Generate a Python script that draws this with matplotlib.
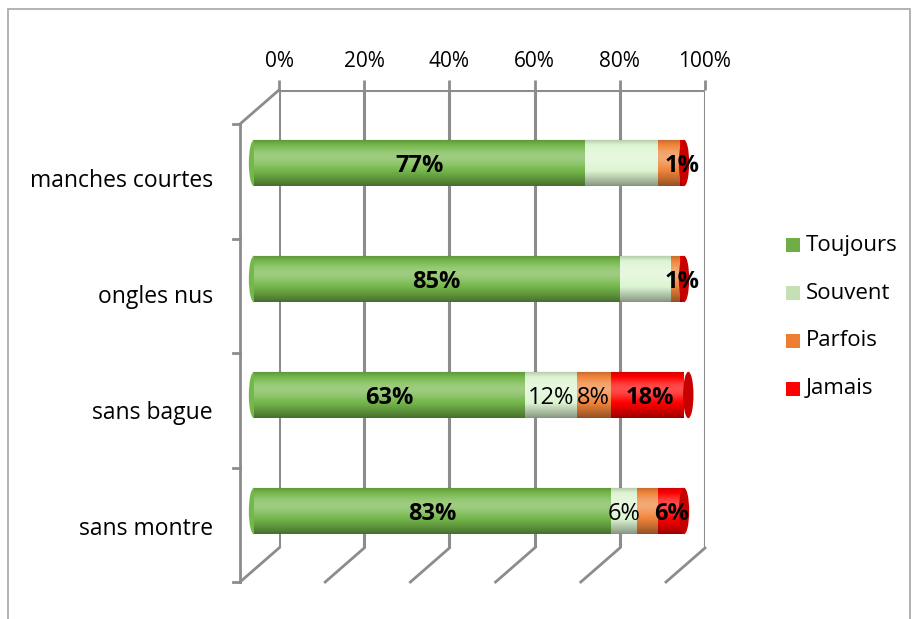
import numpy as np
import matplotlib
matplotlib.use("Agg")
import matplotlib.pyplot as plt
from matplotlib.patches import Ellipse, Rectangle, PathPatch
from matplotlib.path import Path
import matplotlib.colors as mcolors

plt.rcParams['font.family'] = ['Open Sans', 'DejaVu Sans']

# ---------------- data ----------------
categories = ["manches courtes", "ongles nus", "sans bague", "sans montre"]
series_names = ["Toujours", "Souvent", "Parfois", "Jamais"]
toujours = [77, 85, 63, 83]
souvent = [17, 12, 12, 6]
parfois = [5, 2, 8, 5]
jamais = [1, 1, 18, 6]
# which data labels are visible in the reference
show_toujours = [True, True, True, True]
show_souvent = [False, False, True, True]
show_parfois = [False, False, True, False]
show_jamais = [True, True, True, True]
tick_values = [0, 20, 40, 60, 80, 100]
tick_labels = ["0%", "20%", "40%", "60%", "80%", "100%"]

series = [toujours, souvent, parfois, jamais]
shows = [show_toujours, show_souvent, show_parfois, show_jamais]
colors = ["#74B74A", "#DDF5D2", "#F0843A", "#FF0000"]
legend_colors = ["#70AD47", "#C5E0B4", "#ED7D31", "#FF0000"]
bold = [True, False, False, True]

W, H = 914, 619
fig = plt.figure(figsize=(W / 100, H / 100), dpi=100)


def fx(px):
    return px / W


def fy(py):
    return 1 - py / H


# outer border
fig.patches.append(Rectangle((fx(8), fy(640)), fx(910) - fx(8), fy(9) - fy(640),
                             transform=fig.transFigure, fill=False,
                             edgecolor="#A6A6A6", linewidth=1.2))

# ---------------- back wall axes (gridlines + tick labels) ----------------
bx0, bx1, by0, by1 = 279, 705, 90, 548
axb = fig.add_axes([fx(bx0), fy(by1), fx(bx1) - fx(bx0), fy(by0) - fy(by1)])
axb.set_xlim(0, 100)
axb.set_ylim(0, 1)
for s in axb.spines.values():
    s.set_visible(False)
axb.set_yticks([])
axb.xaxis.tick_top()
axb.set_xticks(tick_values)
axb.set_xticklabels(tick_labels, fontsize=15)
axb.tick_params(axis="x", length=7, width=2, color="#8C8C8C", pad=6)
for v in tick_values:
    axb.axvline(v, color="#8C8C8C", linewidth=2.2)
axb.axhline(1, color="#8C8C8C", linewidth=2.2)
axb.patch.set_alpha(0)

# side wall and floor (depth offset of the 3D frame)
sb = (bx1 - bx0) / 100.0
dx, dy = -39, 34
line_kw = dict(color="#8C8C8C", linewidth=2.0, transform=fig.transFigure)
fig.add_artist(plt.Line2D([fx(bx0), fx(bx0 + dx)], [fy(by0), fy(by0 + dy)], **line_kw))
fig.add_artist(plt.Line2D([fx(bx0 + dx), fx(bx0 + dx)], [fy(by0 + dy), fy(by1 + dy)], **line_kw))
for v in tick_values:
    xb = bx0 + v * sb
    fig.add_artist(plt.Line2D([fx(xb), fx(xb + dx)], [fy(by1), fy(by1 + dy)], **line_kw))
n = len(categories)
for i in range(n + 1):
    yy = (by0 + dy) + i * ((by1 - by0) / n)
    fig.add_artist(plt.Line2D([fx(bx0 + dx - 7), fx(bx0 + dx)], [fy(yy), fy(yy)], **line_kw))

# ---------------- front bars axes ----------------
fx0, fx1 = 254, 684
cy0, step = 163, 116
top = cy0 - step / 2
bot = cy0 + step * (n - 0.5)
ax = fig.add_axes([fx(fx0), fy(bot), fx(fx1) - fx(fx0), fy(top) - fy(bot)])
ax.set_xlim(0, 100)
ax.set_ylim(n - 0.5, -0.5)
ax.axis("off")
ax.patch.set_alpha(0)

bh = 0.40
ypos = np.arange(n)
cap_w = 2.4  # ellipse width in data units

# smooth shading gradient for the cylinder look
g = np.linspace(0, 1, 256)
b = (0.30 * np.exp(-((g - 0.38) / 0.22) ** 2)
     - 0.22 * np.clip((0.30 - g) / 0.30, 0, 1) ** 2
     - 0.40 * np.clip((g - 0.55) / 0.45, 0, 1) ** 1.6)
shade = np.zeros((256, 1, 4))
shade[:, 0, :3] = np.where(b[:, None] > 0, 1.0, 0.0)
shade[:, 0, 3] = np.abs(b)

left = np.zeros(n)
for k, vals in enumerate(series):
    vals = np.array(vals, dtype=float)
    ax.barh(ypos, vals, left=left, height=bh, color=colors[k], edgecolor="none", zorder=2)
    for i in range(n):
        if shows[k][i]:
            ax.text(left[i] + vals[i] / 2, ypos[i] + 0.025, f"{int(vals[i])}%",
                    ha="center", va="center", fontsize=17,
                    fontweight="bold" if bold[k] else "normal", color="black", zorder=6)
    left = left + vals

t = np.linspace(np.pi / 2, 3 * np.pi / 2, 40)
for i in range(n):
    total = left[i]
    yc = ypos[i]
    verts = [(cap_w / 2 * np.cos(a), yc - bh / 2 * np.sin(a)) for a in t]
    verts += [(total, yc + bh / 2), (total, yc - bh / 2), verts[0]]
    codes = [Path.MOVETO] + [Path.LINETO] * (len(verts) - 2) + [Path.CLOSEPOLY]
    body = Path(verts, codes)
    ax.add_patch(Ellipse((0, yc), cap_w, bh, facecolor=colors[0], edgecolor="none",
                         zorder=1.9, clip_on=False))
    im = ax.imshow(shade, extent=[-cap_w / 2, total, yc + bh / 2, yc - bh / 2],
                   aspect="auto", interpolation="bilinear", zorder=3)
    im.set_clip_box(None)
    im.set_clip_path(PathPatch(body, transform=ax.transData))
    endc = np.array(mcolors.to_rgb(colors[3])) * 0.78
    ax.add_patch(Ellipse((total, yc), cap_w, bh, facecolor=endc, edgecolor="none",
                         zorder=4, clip_on=False))

ax.set_xlim(0, 100)
ax.set_ylim(n - 0.5, -0.5)

# category labels
for i, c in enumerate(categories):
    fig.text(fx(213), fy(cy0 + i * step + 18), c, ha="right", va="center", fontsize=16.5)

# legend
ly0, lstep = 245, 48
for k, name in enumerate(series_names):
    yy = ly0 + k * lstep
    fig.patches.append(Rectangle((fx(786), fy(yy + 7)), fx(14), 14 / H,
                                 transform=fig.transFigure, facecolor=legend_colors[k],
                                 edgecolor="none"))
    fig.text(fx(806), fy(yy), name, ha="left", va="center", fontsize=16)

fig.savefig("out.png", dpi=100)
